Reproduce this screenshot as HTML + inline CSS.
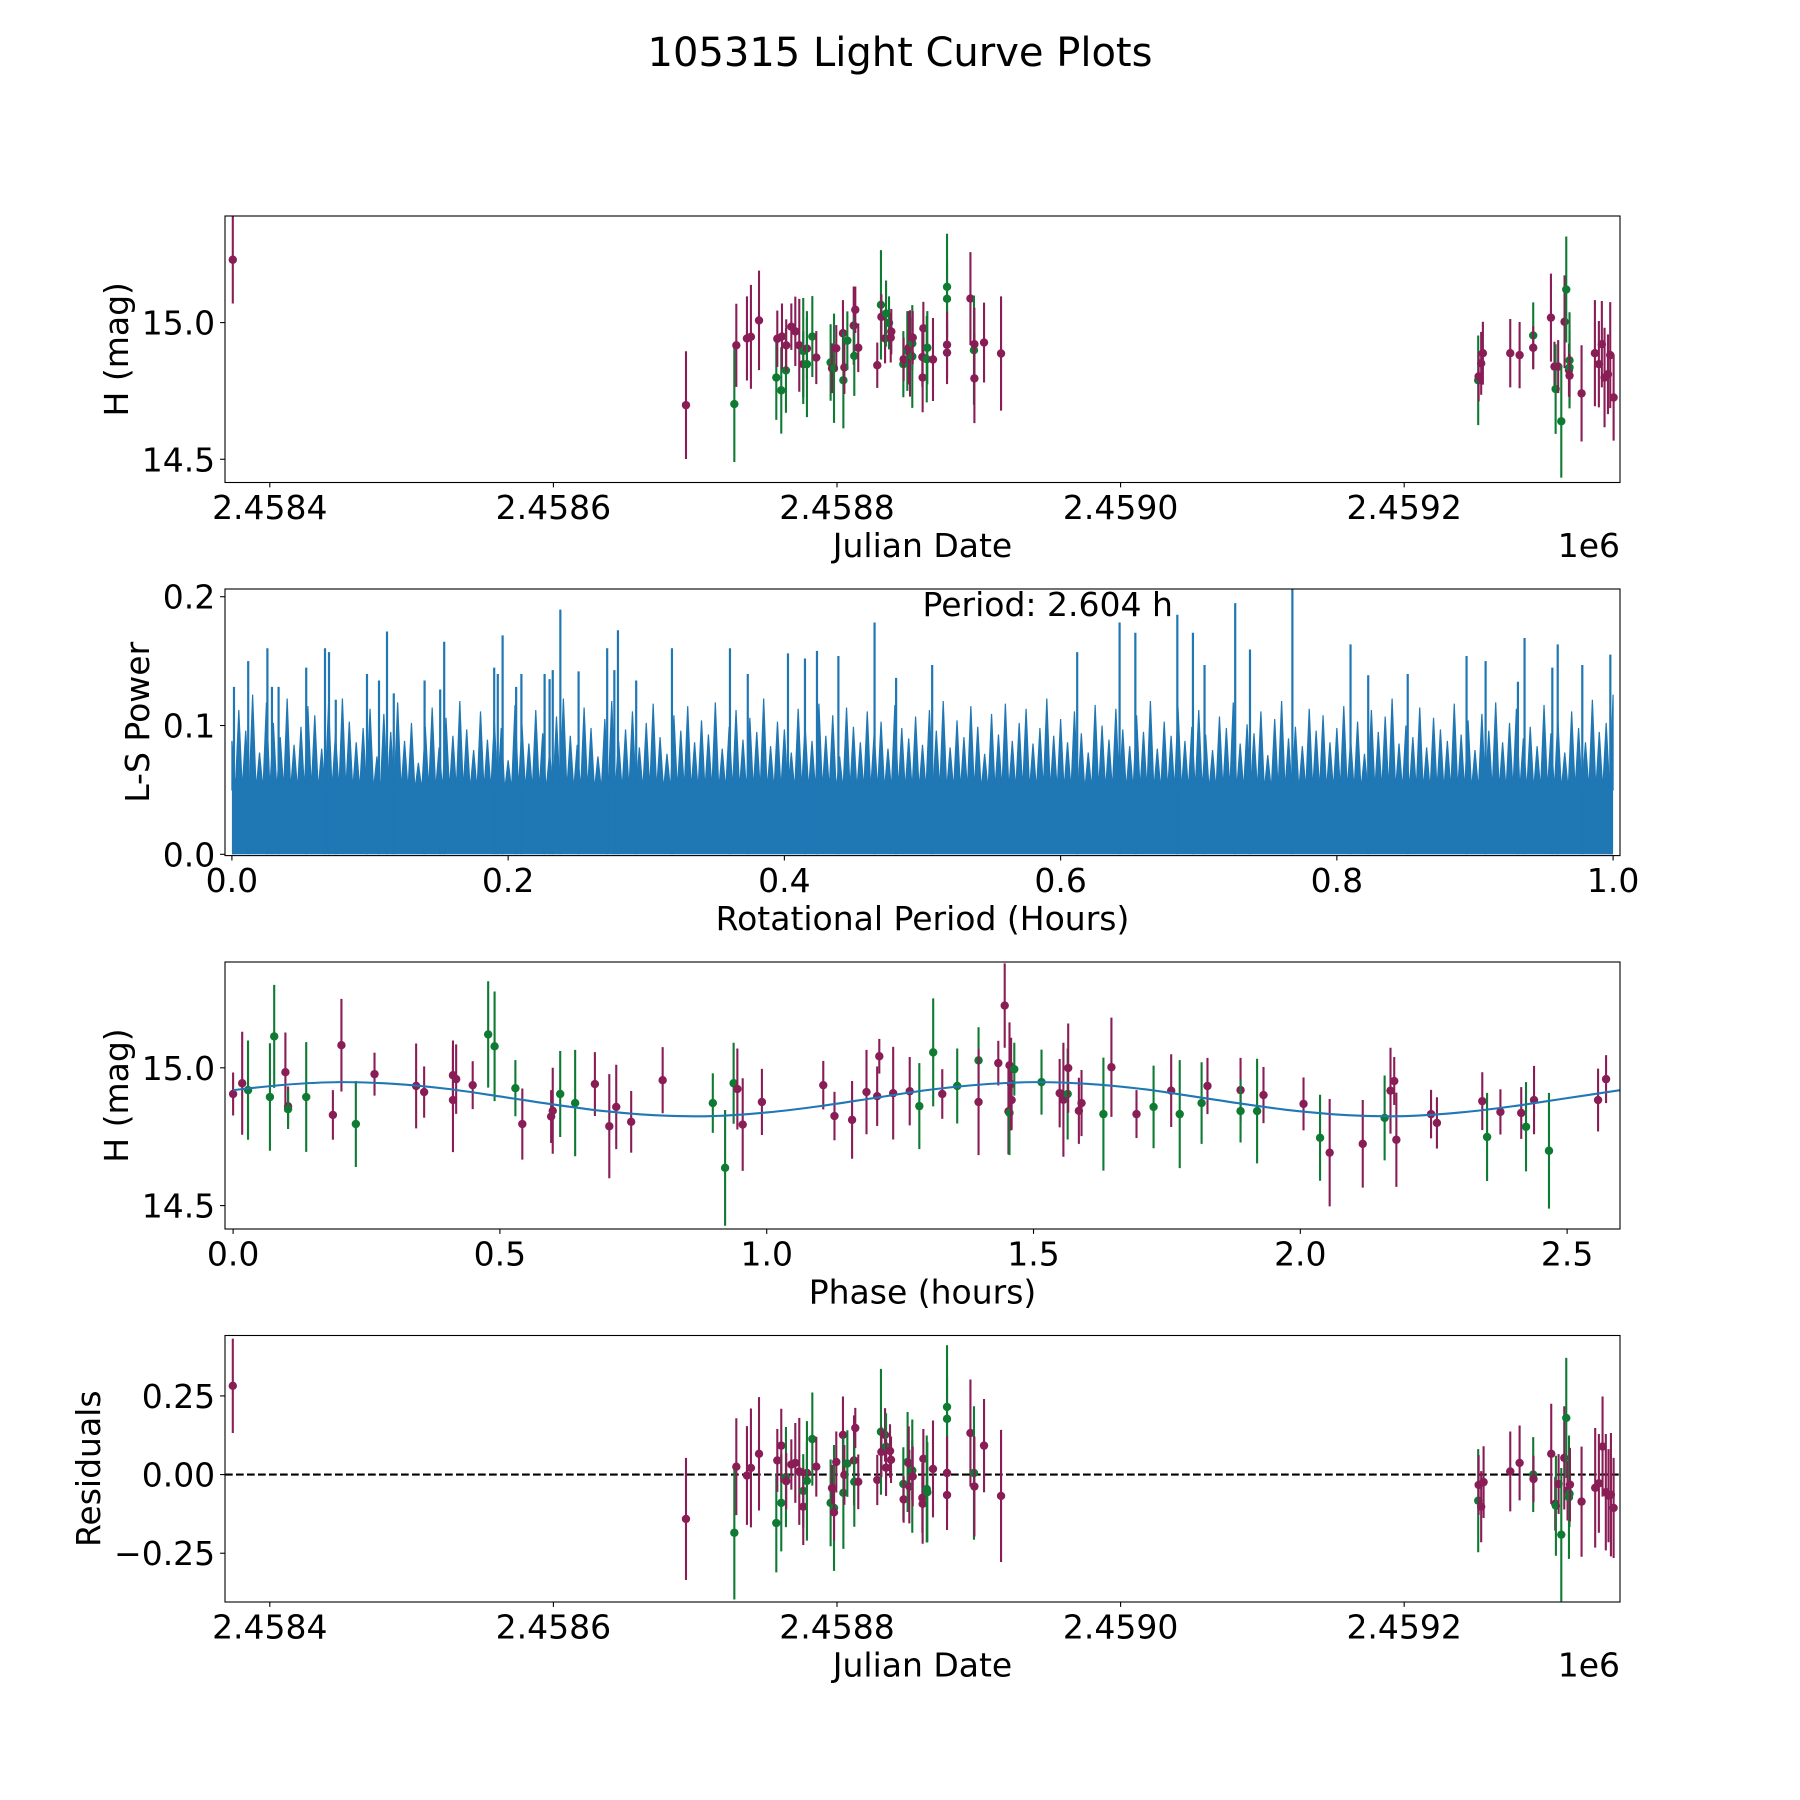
<!DOCTYPE html>
<html><head><meta charset="utf-8"><title>105315 Light Curve Plots</title>
<style>
html,body{margin:0;padding:0;background:#fff;}
svg{display:block;font-family:"DejaVu Sans","Liberation Sans",sans-serif;}
</style></head>
<body>
<svg id="fig" width="1800" height="1800" viewBox="0 0 1800 1800" xmlns="http://www.w3.org/2000/svg">
<rect x="0" y="0" width="1800" height="1800" fill="#fff"/>
<text x="900" y="66" font-size="40" text-anchor="middle" fill="#000">105315 Light Curve Plots</text>
</svg>
<script>
// ---------- Panel 1: light curve (JD vs H) ----------
const lcJd = [2458373.9,2458693.5,2458727.6,2458729.0,2458736.5,2458739.3,2458745.0,2458757.2,2458757.9,2458760.7,2458761.2,2458764.0,2458764.2,2458767.8,2458770.6,2458773.4,2458776.2,2458776.2,2458778.8,2458778.8,2458782.6,2458785.4,2458795.5,2458796.5,2458797.9,2458799.5,2458804.2,2458804.5,2458805.2,2458807.3,2458811.8,2458812.2,2458812.9,2458815.0,2458828.4,2458831.0,2458831.3,2458833.9,2458834.6,2458836.7,2458837.9,2458838.3,2458846.8,2458847.0,2458849.6,2458850.6,2458851.5,2458853.1,2458853.1,2458853.4,2458860.2,2458860.4,2458860.9,2458863.3,2458863.7,2458867.7,2458877.6,2458877.6,2458877.6,2458877.6,2458894.1,2458896.6,2458896.9,2458896.9,2458903.7,2458915.7,
2459252.2,2459252.5,2459254.3,2459255.5,2459274.8,2459281.4,2459291.0,2459291.0,2459303.5,2459306.0,2459306.8,2459308.6,2459310.8,2459313.1,2459314.3,2459316.2,2459316.6,2459316.6,2459316.6,2459325.1,2459334.5,2459337.3,2459339.4,2459341.3,2459343.7,2459345.3,2459347.7];
const lcMag = [15.23,14.698,14.702,14.917,14.942,14.948,15.008,14.799,14.941,14.752,14.949,14.825,14.917,14.985,14.968,14.917,14.848,14.896,14.905,14.848,14.949,14.872,14.854,14.833,14.833,14.906,14.961,14.789,14.836,14.934,14.989,14.878,15.047,14.908,14.844,15.065,15.021,14.942,15.033,14.999,14.945,14.967,14.848,14.866,14.896,14.908,14.887,14.924,14.876,14.945,14.874,14.799,14.979,14.866,14.908,14.865,15.131,15.087,14.919,14.890,15.088,14.899,14.921,14.796,14.927,14.887,
14.789,14.803,14.851,14.888,14.888,14.881,14.953,14.908,15.018,14.839,14.757,14.839,14.639,15.003,15.121,14.826,14.862,14.836,14.806,14.741,14.888,14.848,14.921,14.799,14.811,14.881,14.726];
const lcErr = [0.16,0.197,0.212,0.152,0.154,0.19,0.182,0.155,0.103,0.158,0.121,0.155,0.095,0.085,0.127,0.17,0.121,0.194,0.112,0.194,0.148,0.097,0.14,0.091,0.2,0.085,0.121,0.176,0.097,0.107,0.143,0.146,0.085,0.089,0.083,0.2,0.083,0.091,0.121,0.097,0.091,0.083,0.121,0.079,0.146,0.134,0.158,0.097,0.188,0.097,0.109,0.127,0.097,0.158,0.134,0.152,0.194,0.14,0.121,0.115,0.17,0.2,0.134,0.164,0.146,0.209,
0.164,0.091,0.115,0.115,0.125,0.121,0.121,0.079,0.161,0.091,0.164,0.097,0.206,0.17,0.194,0.097,0.176,0.134,0.079,0.176,0.194,0.158,0.158,0.182,0.146,0.194,0.158];
const lcBand = "mmgmmmmgmgmgmmmmmgmgglmgmmmgmgmgmmmgmgglmmgmgmmggmmmmggmggmmmgmmmm".length ? null : null;
const lcFilter = ["m","m","g","m","m","m","m","g","m","g","m","g","m","m","m","m","m","g","m","g","g","m","g","m","g","m","m","g","m","g","m","g","m","m","m","g","m","m","g","g","m","m","g","m","g","m","m","g","g","m","m","m","m","g","g","m","g","g","m","m","m","g","m","m","m","m",
"g","m","m","m","m","m","g","m","m","m","g","m","g","m","g","m","g","g","m","m","m","m","m","m","m","m","m"];

// ---------- Panel 2: periodogram ----------
const freqStart = 0.0;
const freqStep = 0.005;
const floorPower = 0.05;
const bgPower = [.088,.112,.096,.124,.079,.118,.102,.091,.121,.085,.099,.115,.108,.082,.117,.094,.121,.103,.087,.098,
.113,.076,.109,.095,.118,.088,.102,.071,.099,.114,.083,.106,.092,.119,.097,.081,.111,.089,.104,.098,
.073,.116,.101,.086,.112,.094,.079,.107,.121,.092,.085,.114,.098,.076,.105,.119,.088,.097,.111,.083,
.102,.117,.091,.078,.108,.096,.115,.087,.104,.093,.118,.082,.099,.112,.089,.106,.095,.121,.084,.103,
.097,.079,.113,.101,.088,.117,.092,.108,.076,.114,.099,.087,.111,.094,.103,.082,.116,.098,.090,.107,
.085,.112,.096,.119,.083,.104,.091,.115,.099,.078,.109,.093,.117,.088,.102,.113,.086,.098,.121,.092,
.105,.087,.111,.094,.079,.116,.100,.089,.113,.097,.084,.108,.095,.119,.082,.103,.092,.114,.088,.099,
.112,.093,.081,.107,.098,.118,.086,.101,.094,.111,.077,.105,.119,.090,.099,.084,.113,.096,.108,.087,
.098,.115,.089,.103,.078,.112,.095,.107,.121,.086,.100,.091,.114,.083,.106,.097,.088,.117,.093,.104,
.081,.109,.096,.118,.087,.102,.113,.090,.099,.084,.116,.094,.105,.079,.111,.098,.087,.120,.095,.102,.124];
const tallFreq = [0.0015,0.0118,0.0257,0.029,0.0338,0.0538,0.0674,0.0703,0.0752,0.0978,0.1065,0.1123,0.1172,0.1395,0.1508,0.1537,0.1899,0.1925,0.196,0.2058,0.2096,0.2264,0.23,0.2323,0.2378,0.251,0.2717,0.2769,0.2795,0.2927,0.3186,0.3606,0.3735,0.4026,0.4149,0.4236,0.4391,0.4653,0.4809,
0.507,0.612,0.6427,0.6541,0.6845,0.6958,0.7042,0.7264,0.7371,0.7678,0.8099,0.8227,0.8513,0.8939,0.9077,0.9311,0.9359,0.956,0.9599,0.9777,0.998];
const tallPower = [0.13,0.15,0.16,0.13,0.13,0.145,0.16,0.157,0.12,0.14,0.135,0.173,0.125,0.135,0.128,0.165,0.145,0.14,0.17,0.13,0.14,0.14,0.136,0.143,0.19,0.142,0.16,0.143,0.174,0.135,0.16,0.16,0.14,0.156,0.152,0.158,0.154,0.18,0.137,
0.147,0.157,0.18,0.172,0.186,0.172,0.147,0.195,0.159,0.208,0.163,0.139,0.14,0.154,0.15,0.134,0.168,0.145,0.163,0.147,0.155];

// ---------- Panel 3: phase-folded ----------
const phVal = [0.000,0.017,0.028,0.069,0.077,0.098,0.103,0.103,0.137,0.187,0.203,0.230,0.265,0.343,0.358,0.412,0.412,0.418,0.449,0.478,0.490,0.529,0.542,0.596,0.599,0.613,0.641,0.678,0.705,0.718,0.746,0.805,
0.899,0.922,0.938,0.945,0.955,0.991,1.106,1.127,1.160,1.187,1.207,1.211,1.237,1.268,1.286,1.312,1.329,1.357,1.397,1.397,1.434,1.446,1.453,1.455,1.455,1.458,1.459,1.464,1.515,1.549,1.556,1.564,1.565,1.585,1.590,1.631,1.646,1.693,1.725,
1.758,1.774,1.815,1.826,1.888,1.888,1.919,1.931,2.006,2.037,2.055,2.117,2.158,2.169,2.176,2.180,2.245,2.256,2.341,2.350,2.375,2.414,2.423,2.438,2.466,2.558,2.573];
const phMag = [14.905,14.944,14.919,14.894,15.114,14.984,14.860,14.850,14.894,14.829,15.082,14.796,14.977,14.934,14.912,14.973,14.883,14.959,14.937,15.121,15.078,14.926,14.796,14.823,14.844,14.905,14.872,14.941,14.788,14.858,14.804,14.955,
14.872,14.637,14.944,14.923,14.794,14.876,14.937,14.825,14.811,14.912,14.897,15.042,14.908,14.915,14.861,15.056,14.905,14.934,15.027,14.876,15.017,15.226,14.842,14.836,15.009,14.941,14.883,14.995,14.948,14.908,14.884,14.905,14.999,14.844,14.872,14.832,15.002,14.832,14.858,
14.917,14.832,14.872,14.934,14.919,14.843,14.843,14.901,14.869,14.746,14.692,14.724,14.818,14.917,14.952,14.739,14.832,14.800,14.879,14.749,14.840,14.836,14.786,14.883,14.699,14.883,14.959];
const phErr = [.078,.187,.18,.195,.187,.144,.072,.072,.199,.09,.168,.156,.078,.154,.093,.126,.189,.126,.087,.193,.199,.102,.129,.096,.156,.156,.193,.116,.189,.153,.112,.12,
.108,.21,.147,.147,.168,.12,.088,.088,.141,.153,.108,.063,.168,.124,.156,.196,.09,.136,.12,.193,.081,.153,.156,.153,.156,.168,.108,.096,.118,.124,.207,.165,.162,.12,.12,.205,.18,.087,.15,
.132,.196,.148,.102,.117,.114,.19,.102,.096,.156,.195,.159,.154,.156,.087,.171,.088,.093,.105,.16,.082,.094,.162,.124,.21,.114,.087];
const phFilter = ["m","m","g","g","g","m","m","g","g","m","m","g","m","m","m","m","m","m","m","g","g","g","m","m","m","g","g","m","m","m","m","m",
"g","g","g","m","m","m","m","m","m","m","m","m","m","m","g","g","m","g","g","m","m","m","m","g","m","m","m","g","g","m","m","g","m","m","m","g","m","m","g",
"m","g","g","m","m","g","g","m","m","g","m","m","g","m","m","m","m","m","m","g","m","m","g","m","g","m","m"];
const modelPhase = [0,0.1,0.2,0.3,0.4,0.5,0.6,0.7,0.8,0.9,1.0,1.1,1.2,1.3,1.4,1.5,1.6,1.7,1.8,1.9,2.0,2.1,2.2,2.3,2.4,2.5,2.6];
const modelMag = [14.919,14.939,14.948,14.942,14.924,14.896,14.867,14.842,14.827,14.825,14.838,14.861,14.890,14.919,14.939,14.948,14.942,14.924,14.896,14.867,14.842,14.827,14.825,14.838,14.861,14.890,14.919];

// ---------- Panel 4: residuals ----------
const resJd = [2458373.9,2458693.5,2458727.6,2458729.0,2458736.5,2458739.3,2458745.0,2458757.2,2458757.9,2458760.7,2458760.7,2458764.0,2458764.2,2458767.8,2458770.6,2458773.4,2458776.2,2458776.2,2458778.8,2458778.8,2458782.6,2458785.4,2458795.5,2458796.5,2458797.9,2458797.9,2458799.5,2458804.2,2458804.5,2458805.2,2458807.3,2458812.0,2458812.2,2458812.9,2458815.0,2458828.4,2458831.0,2458831.3,2458833.9,2458834.6,2458834.6,2458837.4,2458838.1,2458846.8,2458847.0,2458849.8,2458850.6,2458851.0,2458853.1,2458853.1,2458853.4,2458860.2,2458860.4,2458860.9,2458863.3,2458863.7,2458867.7,2458877.6,2458877.6,2458877.6,2458877.6,2458894.1,2458896.6,2458896.9,2458903.7,2458915.7,
2459252.2,2459252.5,2459254.3,2459256.0,2459274.8,2459281.4,2459291.0,2459291.2,2459303.7,2459306.5,2459307.0,2459308.9,2459310.8,2459312.9,2459314.3,2459315.2,2459316.2,2459316.6,2459316.9,2459325.1,2459334.7,2459337.3,2459339.9,2459342.2,2459344.1,2459345.8,2459347.7];
const resVal = [0.282,-0.141,-0.185,0.025,-0.003,0.021,0.066,-0.154,0.045,-0.09,0.092,-0.008,-0.021,0.032,0.037,0.01,-0.052,-0.102,0.005,-0.02,0.113,0.025,-0.09,-0.043,-0.106,-0.12,0.04,0.126,-0.058,-0.001,0.035,0.045,-0.023,0.148,-0.023,-0.017,0.136,0.072,0.126,0.089,0.022,0.075,0.047,-0.03,-0.079,0.04,0.036,-0.038,0.013,-0.005,-0.006,-0.074,-0.093,0.05,-0.046,-0.056,0.018,0.215,0.177,0.005,-0.065,0.132,0.005,-0.038,0.092,-0.068,
-0.083,-0.033,-0.102,-0.024,0.01,0.037,0.0,-0.014,0.066,-0.093,-0.099,-0.03,-0.191,0.053,0.18,-0.051,-0.072,-0.061,-0.032,-0.086,-0.042,-0.028,0.089,-0.056,-0.067,-0.064,-0.106];
const resErr = [0.15,0.194,0.212,0.154,0.157,0.189,0.18,0.157,0.10,0.154,0.117,0.159,0.09,0.08,0.127,0.17,0.117,0.122,0.10,0.19,0.148,0.095,0.138,0.074,0.2,0.09,0.097,0.122,0.178,0.095,0.106,0.143,0.143,0.064,0.087,0.08,0.2,0.08,0.085,0.106,0.09,0.085,0.074,0.117,0.074,0.159,0.117,0.117,0.095,0.18,0.095,0.111,0.127,0.095,0.17,0.159,0.154,0.196,0.132,0.117,0.111,0.17,0.212,0.159,0.148,0.21,
0.164,0.095,0.113,0.114,0.127,0.119,0.119,0.074,0.159,0.085,0.159,0.095,0.212,0.164,0.191,0.095,0.196,0.106,0.117,0.175,0.19,0.157,0.159,0.185,0.148,0.196,0.159];
const resFilter = ["m","m","g","m","m","m","m","g","m","g","m","g","m","m","m","m","g","m","m","g","g","m","g","m","g","m","m","m","g","m","g","m","g","m","m","m","g","m","m","g","m","m","m","g","m","g","m","m","g","g","m","m","m","m","g","g","m","g","g","m","m","m","g","m","m","m",
"g","m","m","m","m","m","g","m","m","m","g","m","g","m","g","m","g","g","m","m","m","m","m","m","m","m","m"];

// ---------- drawing ----------
const NS = "http://www.w3.org/2000/svg";
const svg = document.getElementById("fig");
const COL = {m:"#891d56", g:"#0e7a32"};
const X0 = 225, X1 = 1620;
function el(tag, attrs, parent){ const e=document.createElementNS(NS,tag); for(const k in attrs) e.setAttribute(k,attrs[k]); (parent||svg).appendChild(e); return e; }
function lin(d0,d1,p0,p1){ return v => p0 + (v-d0)/(d1-d0)*(p1-p0); }

function makeAxes(id, top, bottom, xlim, ylim){
  const g = el("g",{});
  
  
  const cp = el("clipPath",{id:id+"-clip"}, g);
  el("rect",{x:X0,y:top,width:X1-X0,height:bottom-top}, cp);
  const plot = el("g",{"clip-path":"url(#"+id+"-clip)"}, g);
  
  
  return {g, plot, top, bottom, sx: lin(xlim[0],xlim[1],X0,X1), sy: lin(ylim[0],ylim[1],bottom,top)};
}
function frame(ax, name){
  const r = el("rect",{x:X0,y:ax.top,width:X1-X0,height:ax.bottom-ax.top,fill:"none",stroke:"#000","stroke-width":1.1}, ax.g);
  
  
}
function xTicks(ax, vals, labels, name){
  vals.forEach((v,i)=>{
    const x = ax.sx(v);
    const t = el("line",{x1:x,x2:x,y1:ax.bottom,y2:ax.bottom+4.9,stroke:"#000","stroke-width":1.1}, ax.g);
    
    
    const tx = el("text",{x:x,y:ax.bottom+36.5,"font-size":33,"text-anchor":"middle",fill:"#000"}, ax.g);
    tx.textContent = labels[i];
    
    
  });
}
function yTicks(ax, vals, labels, name){
  vals.forEach((v,i)=>{
    const y = ax.sy(v);
    const t = el("line",{x1:X0-4.9,x2:X0,y1:y,y2:y,stroke:"#000","stroke-width":1.1}, ax.g);
    
    
    const tx = el("text",{x:X0-9.8,y:y+12,"font-size":33,"text-anchor":"end",fill:"#000"}, ax.g);
    tx.textContent = labels[i];
    
    
  });
}
function xLabel(ax, text, name){
  const t = el("text",{x:(X0+X1)/2,y:ax.bottom+74.5,"font-size":33,"text-anchor":"middle",fill:"#000"}, ax.g);
  t.textContent = text;
  
  
}
function yLabel(ax, text, bx, name){
  const cy = (ax.top+ax.bottom)/2;
  const t = el("text",{x:bx,y:cy,"font-size":33,"text-anchor":"middle",fill:"#000",transform:"rotate(-90 "+bx+" "+cy+")"}, ax.g);
  t.textContent = text;
  
  
}
function offsetText(ax, name){
  const t = el("text",{x:X1,y:ax.bottom+74.5,"font-size":33,"text-anchor":"end",fill:"#000"}, ax.g);
  t.textContent = "1e6";
  
  
}
function errPoints(ax, xs, ys, es, fs, name){
  for(let i=0;i<xs.length;i++){
    const x = ax.sx(xs[i]), c = COL[fs[i]];
    const ln = el("line",{x1:x,x2:x,y1:ax.sy(ys[i]-es[i]),y2:ax.sy(ys[i]+es[i]),stroke:c,"stroke-width":2.1}, ax.plot);
    
    
    const d = el("circle",{cx:x,cy:ax.sy(ys[i]),r:4.2,fill:c}, ax.plot);
    
    
  }
}

const jdTicks = [2458400,2458600,2458800,2459000,2459200];
const jdTickLabels = ["2.4584","2.4586","2.4588","2.4590","2.4592"];
const jdLim = [2458368.4, 2459352.2];

// Panel 1
const a1 = makeAxes("light-curve", 216, 482.5, jdLim, [14.415, 15.390]);
errPoints(a1, lcJd, lcMag, lcErr, lcFilter, "light-curve");
frame(a1, "light-curve");
xTicks(a1, jdTicks, jdTickLabels, "light-curve");
yTicks(a1, [14.5, 15.0], ["14.5","15.0"], "light-curve");
xLabel(a1, "Julian Date", "light-curve-x-axis-title");
yLabel(a1, "H (mag)", 128, "light-curve-y-axis-title");
offsetText(a1, "light-curve-offset-text");

// Panel 2
const a2 = makeAxes("periodogram", 589, 855.6, [-0.005, 1.005], [-0.001, 0.206]);
{
  const base = a2.sy(0);
  const f0 = freqStart, f1 = freqStart + freqStep*(bgPower.length-1);
  const fl = el("rect",{x:a2.sx(f0),y:a2.sy(floorPower),width:a2.sx(f1)-a2.sx(f0),height:base-a2.sy(floorPower),fill:"#1f77b4"}, a2.plot);
  
  
  let pts = [];
  for(let i=0;i<bgPower.length;i++){
    const f = freqStart + freqStep*i;
    pts.push(a2.sx(Math.max(f0,f-freqStep/2))+","+a2.sy(floorPower));
    pts.push(a2.sx(f)+","+a2.sy(bgPower[i]));
  }
  pts.push(a2.sx(f1)+","+a2.sy(floorPower));
  const poly = el("polygon",{points:pts.join(" "),fill:"#1f77b4",stroke:"#1f77b4","stroke-width":1.2,"stroke-linejoin":"miter"}, a2.plot);
  
  
  for(let i=0;i<tallFreq.length;i++){
    const x = a2.sx(tallFreq[i]);
    const sp = el("line",{x1:x,x2:x,y1:base,y2:a2.sy(tallPower[i]),stroke:"#1f77b4","stroke-width":2.2}, a2.plot);
    
    
  }
  const pt = el("text",{x:a2.sx(0.5),y:616,"font-size":33,fill:"#000"}, a2.g);
  pt.textContent = "Period: 2.604 h";
  
  
}
frame(a2, "periodogram");
xTicks(a2, [0,0.2,0.4,0.6,0.8,1.0], ["0.0","0.2","0.4","0.6","0.8","1.0"], "periodogram");
yTicks(a2, [0,0.1,0.2], ["0.0","0.1","0.2"], "periodogram");
xLabel(a2, "Rotational Period (Hours)", "periodogram-x-axis-title");
yLabel(a2, "L-S Power", 149, "periodogram-y-axis-title");

// Panel 3
const a3 = makeAxes("phase", 962, 1229, [-0.0152, 2.5991], [14.415, 15.384]);
errPoints(a3, phVal, phMag, phErr, phFilter, "phase");
{
  const P = modelPhase.map((p,i)=>[a3.sx(p), a3.sy(modelMag[i])]);
  let d = "M"+P[0][0]+","+P[0][1];
  for(let i=0;i<P.length-1;i++){
    const p0=P[Math.max(0,i-1)], p1=P[i], p2=P[i+1], p3=P[Math.min(P.length-1,i+2)];
    const c1=[p1[0]+(p2[0]-p0[0])/6, p1[1]+(p2[1]-p0[1])/6];
    const c2=[p2[0]-(p3[0]-p1[0])/6, p2[1]-(p3[1]-p1[1])/6];
    d += " C"+c1[0]+","+c1[1]+" "+c2[0]+","+c2[1]+" "+p2[0]+","+p2[1];
  }
  const mc = el("path",{d:d,fill:"none",stroke:"#1f77b4","stroke-width":2.1}, a3.plot);
  
  
}
frame(a3, "phase");
xTicks(a3, [0,0.5,1.0,1.5,2.0,2.5], ["0.0","0.5","1.0","1.5","2.0","2.5"], "phase");
yTicks(a3, [14.5, 15.0], ["14.5","15.0"], "phase");
xLabel(a3, "Phase (hours)", "phase-x-axis-title");
yLabel(a3, "H (mag)", 128, "phase-y-axis-title");

// Panel 4
const a4 = makeAxes("residuals", 1335.5, 1602, jdLim, [-0.405, 0.442]);
{
  const y0 = a4.sy(0);
  const zl = el("line",{x1:X0,x2:X1,y1:y0,y2:y0,stroke:"#000","stroke-width":2.1,"stroke-dasharray":"7.7,3.3"}, a4.plot);
  
  
}
errPoints(a4, resJd, resVal, resErr, resFilter, "residuals");
frame(a4, "residuals");
xTicks(a4, jdTicks, jdTickLabels, "residuals");
yTicks(a4, [-0.25, 0, 0.25], ["\u22120.25","0.00","0.25"], "residuals");
xLabel(a4, "Julian Date", "residuals-x-axis-title");
yLabel(a4, "Residuals", 100, "residuals-y-axis-title");
offsetText(a4, "residuals-offset-text");
</script>
</body></html>
